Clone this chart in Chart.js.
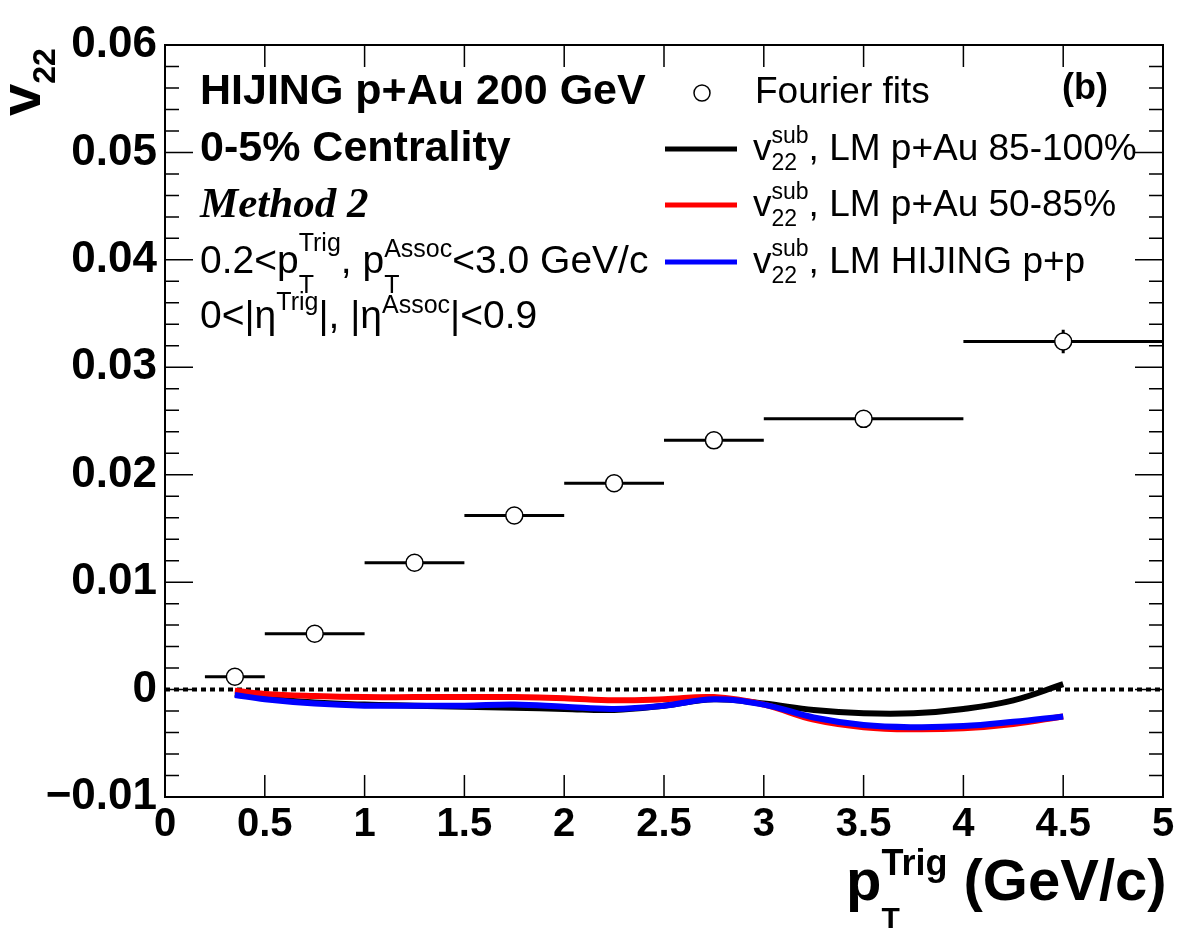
<!DOCTYPE html>
<html>
<head>
<meta charset="utf-8">
<script src="https://cdn.jsdelivr.net/npm/chart.js@4"></script>
<style>
  html, body { margin: 0; padding: 0; background: #fff; }
  canvas { display: block; }
</style>
</head>
<body>
<canvas id="c" width="1182" height="938"></canvas>
<script>
// Fourier fit points (bin centres, bin edges, values, errors)
const binCenter = [0.35, 0.75, 1.25, 1.75, 2.25, 2.75, 3.5, 4.5];
const binLo = [0.2, 0.5, 1.0, 1.5, 2.0, 2.5, 3.0, 4.0];
const binHi = [0.5, 1.0, 1.5, 2.0, 2.5, 3.0, 4.0, 5.0];
const v22Fit = [0.0012, 0.0052, 0.0118, 0.0162, 0.0192, 0.0232, 0.0252, 0.0324];
const v22Err = [0.0002, 0.0002, 0.0003, 0.0003, 0.0003, 0.0004, 0.0005, 0.0011];

// v22 sub curves
const curveX = [0.35, 0.5, 0.75, 1, 1.25, 1.5, 1.75, 2, 2.25, 2.5, 2.75, 3, 3.25, 3.5, 3.75, 4, 4.25, 4.5];
const subPeriph = [-0.0004, -0.0008, -0.0012, -0.0014, -0.0015, -0.0016, -0.0017, -0.0018, -0.0019, -0.0015, -0.0009, -0.0013, -0.0019, -0.0022, -0.0022, -0.0018, -0.0010, 0.0005];
const subMid = [-0.0001, -0.0004, -0.0006, -0.0007, -0.0007, -0.0007, -0.0007, -0.0008, -0.0010, -0.0009, -0.0007, -0.0014, -0.0028, -0.0035, -0.0037, -0.0036, -0.0032, -0.0025];
const subPP = [-0.0005, -0.0009, -0.0013, -0.0015, -0.0015, -0.0015, -0.0014, -0.0016, -0.0018, -0.0015, -0.0009, -0.0014, -0.0026, -0.0033, -0.0035, -0.0034, -0.0030, -0.0025];

const zeroX = [0, 5];
const zeroY = [0, 0];

const xTicks = [0, 0.5, 1, 1.5, 2, 2.5, 3, 3.5, 4, 4.5, 5];

const SANS = '"Liberation Sans", Arial, sans-serif';
const SERIF = '"Liberation Serif", "Times New Roman", serif';

function pts(xs, ys) { return xs.map((x, i) => ({ x: x, y: ys[i] })); }

// draw a run of text pieces; stack=true starts at the same x as previous piece
function rich(ctx, x, y, parts) {
  let cx = x, start = x, end = x;
  for (const p of parts) {
    ctx.font = p.f;
    const w = ctx.measureText(p.t).width;
    const sx = p.stack ? start : cx;
    ctx.fillText(p.t, sx, y + (p.dy || 0));
    if (p.stack) { cx = Math.max(end, sx + w); }
    else { start = sx; cx = sx + w; }
    end = cx;
  }
}

const errBars = {
  id: 'errBars',
  beforeDatasetsDraw(chart) {
    const { ctx, scales: { x, y } } = chart;
    ctx.save();
    ctx.strokeStyle = '#000';
    ctx.lineWidth = 3;
    binCenter.forEach((c, i) => {
      const py = y.getPixelForValue(v22Fit[i]);
      ctx.beginPath();
      ctx.moveTo(x.getPixelForValue(binLo[i]), py);
      ctx.lineTo(x.getPixelForValue(binHi[i]), py);
      const px = x.getPixelForValue(c);
      ctx.moveTo(px, y.getPixelForValue(v22Fit[i] - v22Err[i]));
      ctx.lineTo(px, y.getPixelForValue(v22Fit[i] + v22Err[i]));
      ctx.stroke();
    });
    ctx.restore();
  }
};

const frame = {
  id: 'frame',
  afterDatasetsDraw(chart) {
    const { ctx, chartArea: a, scales: { x, y } } = chart;
    ctx.save();
    ctx.strokeStyle = '#000';
    ctx.lineWidth = 2;
    ctx.strokeRect(a.left, a.top, a.right - a.left, a.bottom - a.top);
    ctx.lineWidth = 1.5;
    ctx.beginPath();
    for (let k = -10; k <= 60; k += 2) {
      const py = y.getPixelForValue(k / 1000);
      const len = k % 10 === 0 ? 28 : 14;
      ctx.moveTo(a.left, py); ctx.lineTo(a.left + len, py);
      ctx.moveTo(a.right, py); ctx.lineTo(a.right - len, py);
    }
    xTicks.forEach(t => {
      const px = x.getPixelForValue(t);
      ctx.moveTo(px, a.bottom); ctx.lineTo(px, a.bottom - 22);
      ctx.moveTo(px, a.top); ctx.lineTo(px, a.top + 22);
    });
    ctx.stroke();
    ctx.restore();
  },
  afterDraw(chart) {
    const { ctx } = chart;
    ctx.save();
    ctx.fillStyle = '#000';
    ctx.textBaseline = 'alphabetic';
    ctx.textAlign = 'left';

    // text block, top left
    const B43 = 'bold 43px ' + SANS;
    const R39 = '39px ' + SANS;
    const R25 = '25px ' + SANS;
    rich(ctx, 200, 104, [{ t: 'HIJING p+Au 200 GeV', f: B43 }]);
    rich(ctx, 200, 161, [{ t: '0-5% Centrality', f: B43 }]);
    rich(ctx, 200, 217, [{ t: 'Method 2', f: 'italic bold 43px ' + SERIF }]);
    rich(ctx, 200, 273, [
      { t: '0.2<p', f: R39 },
      { t: 'Trig', f: R25, dy: -22 }, { t: 'T', f: R25, dy: 20, stack: true },
      { t: ', p', f: R39 },
      { t: 'Assoc', f: R25, dy: -16 }, { t: 'T', f: R25, dy: 20, stack: true },
      { t: '<3.0 GeV/c', f: R39 }
    ]);
    rich(ctx, 200, 328, [
      { t: '0<|\u03b7', f: R39 },
      { t: 'Trig', f: R25, dy: -18 },
      { t: '|, |\u03b7', f: R39 },
      { t: 'Assoc', f: R25, dy: -15 },
      { t: '|<0.9', f: R39 }
    ]);

    // legend
    ctx.beginPath();
    ctx.arc(702, 93, 8, 0, Math.PI * 2);
    ctx.fillStyle = '#fff'; ctx.fill();
    ctx.lineWidth = 1.5; ctx.strokeStyle = '#000'; ctx.stroke();
    ctx.fillStyle = '#000';
    const R37 = '37px ' + SANS;
    const R23 = '23px ' + SANS;
    rich(ctx, 755, 103, [{ t: 'Fourier fits', f: R37 }]);
    rich(ctx, 1062, 99, [{ t: '(b)', f: 'bold 36px ' + SANS }]);
    const rows = [
      { c: '#000', y: 149, t: ', LM p+Au 85-100%' },
      { c: '#ff0000', y: 205, t: ', LM p+Au 50-85%' },
      { c: '#0000ff', y: 262, t: ', LM HIJING p+p' }
    ];
    rows.forEach(r => {
      ctx.strokeStyle = r.c; ctx.lineWidth = 5;
      ctx.beginPath(); ctx.moveTo(665, r.y); ctx.lineTo(737, r.y); ctx.stroke();
      rich(ctx, 753, r.y + 11, [
        { t: 'v', f: R37 },
        { t: 'sub', f: R23, dy: -17 }, { t: '22', f: R23, dy: 10, stack: true },
        { t: r.t, f: R37 }
      ]);
    });

    // x axis title
    const B58 = 'bold 58px ' + SANS;
    rich(ctx, 846, 900, [
      { t: 'p', f: B58 },
      { t: 'Trig', f: 'bold 36px ' + SANS, dy: -25 },
      { t: 'T', f: 'bold 30px ' + SANS, dy: 28, stack: true },
      { t: ' (GeV/c)', f: B58 }
    ]);

    // y axis title
    ctx.translate(40, 116);
    ctx.rotate(-Math.PI / 2);
    rich(ctx, 0, 0, [
      { t: 'v', f: 'bold 58px ' + SANS },
      { t: '22', f: 'bold 32px ' + SANS, dy: 15 }
    ]);
    ctx.restore();
  }
};

new Chart(document.getElementById('c'), {
  type: 'line',
  data: {
    datasets: [
      {
        label: 'Fourier fits',
        data: pts(binCenter, v22Fit),
        showLine: false,
        pointStyle: 'circle',
        pointRadius: 8.5,
        pointBorderWidth: 1.5,
        pointBorderColor: '#000',
        pointBackgroundColor: '#fff',
        order: 0
      },
      {
        label: 'LM HIJING p+p',
        data: pts(curveX, subPP),
        borderColor: '#0000ff',
        borderWidth: 6,
        pointRadius: 0,
        tension: 0.4,
        order: 1
      },
      {
        label: 'LM p+Au 50-85%',
        data: pts(curveX, subMid),
        borderColor: '#ff0000',
        borderWidth: 6,
        pointRadius: 0,
        tension: 0.4,
        order: 2
      },
      {
        label: 'LM p+Au 85-100%',
        data: pts(curveX, subPeriph),
        borderColor: '#000000',
        borderWidth: 6,
        pointRadius: 0,
        tension: 0.4,
        order: 3
      },
      {
        label: 'zero',
        data: pts(zeroX, zeroY),
        borderColor: '#000',
        borderWidth: 4,
        borderDash: [5, 4],
        pointRadius: 0,
        order: 4
      }
    ]
  },
  options: {
    responsive: false,
    animation: false,
    devicePixelRatio: 1,
    layout: { padding: { left: 0, right: 19, top: 45, bottom: 0 } },
    plugins: { legend: { display: false }, tooltip: { enabled: false } },
    scales: {
      x: {
        type: 'linear', min: 0, max: 5,
        grid: { display: false, drawTicks: false },
        border: { display: false },
        afterBuildTicks: s => { s.ticks = xTicks.map(v => ({ value: v })); },
        afterFit: s => { s.height = 141; },
        ticks: {
          autoSkip: false, maxRotation: 0, padding: 4, color: '#000',
          font: { family: SANS, size: 40, weight: 'bold' },
          callback: v => String(v)
        }
      },
      y: {
        type: 'linear', min: -0.01, max: 0.06,
        grid: { display: false, drawTicks: false },
        border: { display: false },
        afterFit: s => { s.width = 165; },
        ticks: {
          stepSize: 0.01, padding: 8, color: '#000',
          font: { family: SANS, size: 44, weight: 'bold' },
          callback: v => Math.abs(v) < 1e-9 ? '0' : (v < 0 ? '\u2212' + Math.abs(v).toFixed(2) : v.toFixed(2))
        }
      }
    }
  },
  plugins: [errBars, frame]
});
</script>
</body>
</html>
